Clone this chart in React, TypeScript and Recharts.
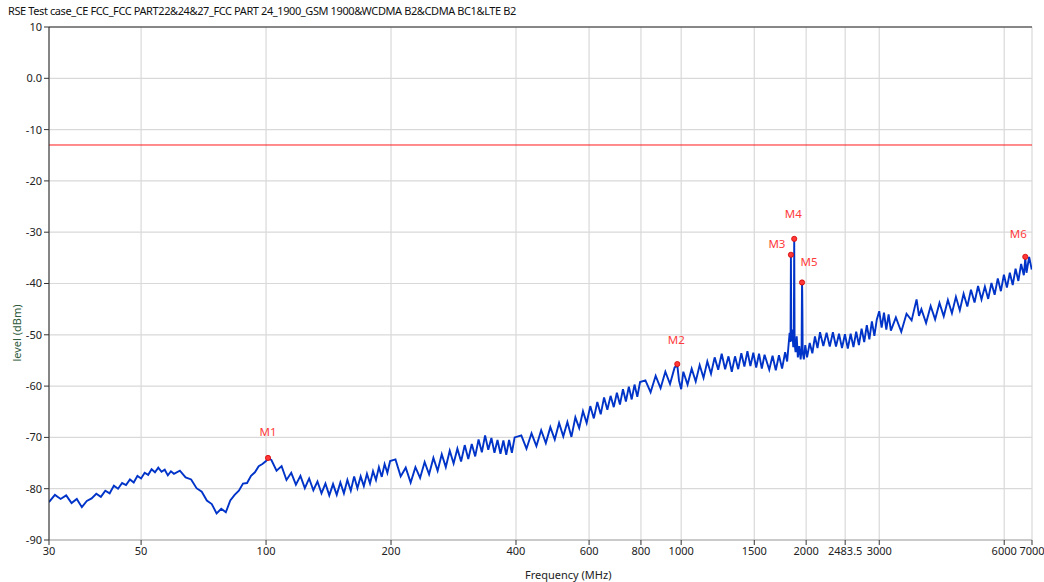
import { CartesianGrid, ComposedChart, Line, ReferenceLine, Scatter, XAxis, YAxis } from 'recharts';

const TITLE = 'RSE Test case_CE FCC_FCC PART22&24&27_FCC PART 24_1900_GSM 1900&WCDMA B2&CDMA BC1&LTE B2';

const xTicks = [30, 50, 100, 200, 400, 600, 800, 1000, 1500, 2000, 2483.5, 3000, 6000, 7000];
const yTicks = [-90, -80, -70, -60, -50, -40, -30, -20, -10, 0, 10];
const limitDbm = -13;

const markerNames = ['M1', 'M2', 'M3', 'M4', 'M5', 'M6'];
const markerFreqs = [101.1, 978.6, 1838, 1872, 1955, 6744];
const markerLevels = [-74.0, -55.7, -34.4, -31.3, -39.8, -34.8];

// sweep points [MHz, dBm] (upper/lower edge of the noise band alternately)
const sweep: [number, number][] = [
  [30, -82.6], [31, -81.2], [32, -82.0], [33, -81.3], [34, -82.8], [35, -82.0], [36, -83.6], [37, -82.4],
  [38, -81.9], [39, -81.0], [40, -81.6], [41, -80.4], [42, -80.9], [43, -79.4], [44, -80.0], [45, -78.9],
  [46, -79.3], [47, -78.2], [48, -78.8], [49, -77.5], [50, -78.0], [51, -76.9], [52, -77.3], [53, -76.2],
  [54, -76.8], [55, -75.9], [56, -76.7], [57, -76.3], [58, -77.4], [59, -76.6], [60, -77.1],
  [62, -76.5], [64, -77.8], [66, -78.2], [68, -79.9], [70, -80.6], [72, -82.3], [74, -83.0], [76, -84.8],
  [78, -83.9], [80, -84.6], [82, -82.3], [84, -81.2], [86, -80.4], [88, -79.0], [90, -78.9], [92, -77.5],
  [94, -76.8], [96, -75.6], [98, -75.2], [100, -74.6], [101.1, -74.1],
  [103, -74.4], [106, -76.5], [109, -75.6], [112, -78.3], [115, -76.9], [118, -79.2], [121, -77.5], [124, -79.9],
  [127, -78.0], [130, -80.3], [133, -78.6], [136, -80.9], [139, -79.0], [142, -81.3], [145, -79.1], [148, -81.2],
  [151, -78.8], [154, -80.9], [157, -78.3], [160, -80.4], [163, -77.6], [166, -79.9], [169, -77.6], [172, -79.5],
  [175, -77.1], [178, -79.0], [181, -76.6], [184, -78.3], [187, -75.8], [190, -77.7], [193, -75.2], [196, -76.9],
  [199, -74.6],
  [205, -74.3], [211, -77.6], [217, -75.9], [223, -78.8], [229, -75.8], [235, -77.9], [241, -74.8], [247, -77.2],
  [253, -74.0], [259, -76.5], [265, -73.3], [271, -75.8], [277, -72.6], [283, -75.1], [289, -72.2], [295, -74.7],
  [301, -71.5], [307, -74.2], [313, -71.3], [319, -73.7], [325, -70.4], [331, -72.9], [337, -69.6], [343, -72.4],
  [349, -70.1], [355, -73.0], [361, -70.5], [367, -73.2], [373, -70.6], [379, -73.4], [385, -70.5], [391, -73.0],
  [397, -70.0],
  [412, -69.6], [424, -72.2], [436, -69.2], [448, -71.7], [460, -68.6], [472, -71.1], [484, -68.0], [496, -70.4],
  [508, -67.2], [520, -69.8], [532, -67.0], [544, -69.9], [556, -66.1], [568, -68.2], [580, -64.9], [592, -67.2],
  [604, -63.9], [616, -66.3], [628, -63.1], [640, -65.5], [652, -62.2], [664, -64.6], [676, -61.9], [688, -64.1],
  [700, -61.3], [712, -63.6], [724, -60.6], [736, -63.0], [748, -60.1], [760, -62.6], [772, -59.7], [784, -62.1],
  [796, -59.2],
  [820, -58.9], [844, -61.2], [868, -58.0], [892, -60.4], [916, -57.2], [940, -59.6], [964, -56.4], [978.6, -55.9],
  [988, -58.9], [1000, -60.6], [1012, -57.2], [1036, -59.7], [1060, -56.6], [1084, -59.1], [1108, -55.9], [1132, -58.4],
  [1156, -55.2], [1180, -57.6], [1204, -54.4], [1228, -56.8], [1252, -53.7], [1276, -56.7], [1300, -54.2], [1324, -57.2],
  [1348, -54.2], [1372, -56.7], [1396, -53.6], [1420, -56.2], [1444, -53.2], [1468, -56.1], [1492, -53.5], [1516, -56.4],
  [1540, -53.7], [1564, -56.6], [1588, -53.9],
  [1630, -56.8], [1660, -54.1], [1690, -56.9], [1720, -54.0], [1750, -56.6], [1780, -53.4], [1800, -55.2], [1815, -51.8],
  [1825, -49.6], [1834, -51.4], [1838, -34.4], [1842, -51.2], [1852, -49.0], [1862, -52.4], [1868, -49.8], [1872, -31.3],
  [1876, -51.6], [1886, -53.4], [1898, -50.3], [1910, -54.4], [1925, -52.2], [1940, -54.8], [1950, -52.6], [1953, -44.6],
  [1955, -39.8], [1957, -41.5], [1959, -45.0], [1962, -53.4], [1975, -54.8], [1990, -52.0], [2010, -54.4], [2040, -51.6],
  [2070, -53.6], [2100, -50.3], [2130, -52.6], [2160, -49.5], [2200, -52.2], [2240, -49.6], [2280, -52.3], [2320, -49.5],
  [2360, -52.3], [2400, -49.8], [2440, -52.6], [2480, -49.9], [2520, -52.7], [2560, -49.8], [2600, -52.4], [2640, -49.4],
  [2680, -52.0], [2720, -48.8], [2760, -51.4], [2800, -48.1], [2840, -50.9], [2880, -47.4], [2920, -50.2], [2960, -47.0],
  [3000, -45.4], [3040, -48.6], [3080, -45.7], [3120, -49.0], [3160, -46.0], [3200, -49.2],
  [3290, -46.6], [3390, -49.4], [3490, -45.9], [3590, -47.2], [3690, -43.1], [3740, -46.3], [3790, -45.0], [3890, -47.7],
  [3990, -44.4], [4090, -47.0], [4190, -43.8], [4290, -46.4], [4390, -43.2], [4490, -45.8], [4590, -42.6], [4690, -45.2],
  [4790, -42.0], [4890, -44.5], [4990, -41.2], [5090, -43.7], [5190, -40.5], [5290, -43.1], [5390, -40.6], [5490, -43.0],
  [5590, -39.9], [5690, -42.2], [5790, -39.0], [5890, -41.5], [5990, -38.3], [6090, -40.8], [6190, -37.9], [6290, -40.3],
  [6390, -37.1], [6490, -39.5], [6590, -36.2], [6690, -38.4], [6744, -35.1], [6790, -37.9], [6890, -34.8], [6990, -37.3],
];

const traceData = sweep.map(([f, level]) => ({ f, level }));
const markerData = markerNames.map((name, i) => ({ name, f: markerFreqs[i], level: markerLevels[i] }));

// label placement relative to each marker dot
const labelOffset: Record<string, [number, number]> = {
  M1: [0, -22],
  M2: [-1, -20],
  M3: [-14, -7],
  M4: [-1, -21],
  M5: [7, -16],
  M6: [-7, -19],
};

const FONT = '"Noto Sans", sans-serif';

const MarkerShape = (props: any) => {
  const { cx, cy, payload } = props;
  const [dx, dy] = labelOffset[payload.name] || [0, -20];
  return (
    <g>
      <circle cx={cx} cy={cy} r={2.6} fill="#ff3838" stroke="#d40000" strokeWidth={0.8} />
      <text x={cx + dx} y={cy + dy} textAnchor="middle" fontSize={11.5} fill="#ff3b3b" fontFamily={FONT}>
        {payload.name}
      </text>
    </g>
  );
};

export default function App() {
  return (
    <div style={{ position: 'absolute', left: 0, top: 0, width: 1044, height: 582, background: '#fff', fontFamily: FONT }}>
      <div style={{ position: 'absolute', left: 8, top: 3, fontSize: 11, letterSpacing: -0.4, color: '#111', whiteSpace: 'nowrap' }}>
        {TITLE}
      </div>
      <ComposedChart width={1044} height={582} data={traceData} margin={{ top: 27, right: 12, bottom: 0, left: 0 }}>
        <CartesianGrid stroke="#d9d9d9" strokeWidth={1.2} />
        <XAxis
          dataKey="f"
          type="number"
          scale="log"
          domain={[30, 7000]}
          ticks={xTicks}
          allowDataOverflow
          height={42}
          axisLine={{ stroke: '#a8a8a8' }}
          tickLine={{ stroke: '#333' }}
          tickSize={5}
          tick={{ fontSize: 11, fill: '#222', fontFamily: FONT }}
          interval={0}
        />
        <YAxis
          type="number"
          domain={[-90, 10]}
          ticks={yTicks}
          width={49}
          axisLine={{ stroke: '#222' }}
          tickLine={{ stroke: '#333' }}
          tickSize={5}
          tickMargin={2}
          tick={{ fontSize: 11, fill: '#222', fontFamily: FONT }}
          tickFormatter={(v: number) => (v === 0 ? '0.0' : String(v))}
          allowDataOverflow
        />
        <ReferenceLine y={10} stroke="#222" strokeWidth={1} />
        <ReferenceLine y={limitDbm} stroke="#ff1a1a" strokeWidth={1} />
        <Line
          dataKey="level"
          stroke="#0034c8"
          strokeWidth={1.9}
          strokeLinejoin="miter"
          dot={false}
          isAnimationActive={false}
          type="linear"
        />
        <Scatter data={markerData} dataKey="level" shape={MarkerShape} isAnimationActive={false} />
      </ComposedChart>
      <div style={{ position: 'absolute', left: 525, top: 567, fontSize: 11, color: '#222', whiteSpace: 'nowrap' }}>
        Frequency (MHz)
      </div>
      <div
        style={{
          position: 'absolute',
          left: 16,
          top: 333,
          fontSize: 11,
          color: '#2c5a3a',
          whiteSpace: 'nowrap',
          transform: 'translate(-50%, -50%) rotate(-90deg)',
        }}
      >
        level (dBm)
      </div>
    </div>
  );
}
